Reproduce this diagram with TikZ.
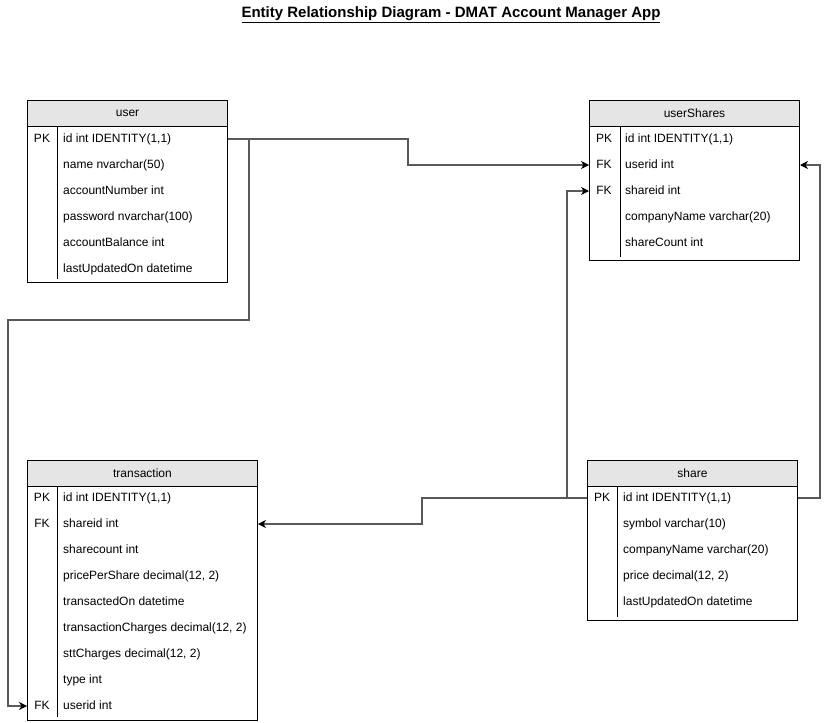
\documentclass[tikz,border=0pt]{standalone}
\usepackage{fontspec}
\setmainfont{Liberation Sans}
\usetikzlibrary{arrows.meta,positioning}
\tikzset{
    tblhead/.style ={
        draw=black,
        fill=black!10,
        line width=1pt,
        minimum height=26pt,
        inner sep=0pt,
        anchor=north west
    },
    tblbody/.style ={
        draw=black,
        line width=1pt,
        inner sep=0pt,
        anchor=north west
    },
    keytxt/.style ={
        inner sep=0pt,
        text height=9pt,
        text depth=2.5pt
    },
    fieldtxt/.style ={
        anchor=west,
        inner sep=0pt,
        text height=9pt,
        text depth=2.5pt
    },
    divider/.style ={
        draw=black,
        line width=1pt
    },
    relation/.style ={
        draw=black!65,
        line width=1.1pt,
        -{Stealth[length=8pt,width=8pt,inset=2.5pt,black]}
    }
}
\begin{document}
\begin{tikzpicture}[x=1pt,y=-1pt,font=\fontsize{12}{14}\selectfont]
        \useasboundingbox (0,0) rectangle (828,723);
        \node[font=\fontsize{15}{18}\selectfont\bfseries] (title) at (451,15) {\underline{Entity Relationship Diagram - DMAT Account Manager App}};

        \node[tblhead, minimum width=200pt] (user) at (27,100) {user};
        \node[tblbody, minimum width=200pt, minimum height=156pt] (userbody) at (27,126) {};
        \draw[divider] ([xshift=30pt]userbody.north west) -- ([xshift=30pt,yshift=4pt]userbody.south west);
        \node[keytxt] (user-pk) at (42,139) {PK};
        \node[fieldtxt] (user-id) at (63,139) {id int IDENTITY(1,1)};
        \node[fieldtxt] (user-name) at (63,165) {name nvarchar(50)};
        \node[fieldtxt] (user-accno) at (63,191) {accountNumber int};
        \node[fieldtxt] (user-pwd) at (63,217) {password nvarchar(100)};
        \node[fieldtxt] (user-bal) at (63,243) {accountBalance int};
        \node[fieldtxt] (user-upd) at (63,269) {lastUpdatedOn datetime};

        \node[tblhead, minimum width=210pt] (usershares) at (589,100) {userShares};
        \node[tblbody, minimum width=210pt, minimum height=134pt] (usersharesbody) at (589,126) {};
        \draw[divider] ([xshift=31pt]usersharesbody.north west) -- ([xshift=31pt,yshift=4pt]usersharesbody.south west);
        \node[keytxt] (usershares-pk) at (604,139) {PK};
        \node[keytxt] (usershares-fk1) at (604,165) {FK};
        \node[keytxt] (usershares-fk2) at (604,191) {FK};
        \node[fieldtxt] (usershares-id) at (625,139) {id int IDENTITY(1,1)};
        \node[fieldtxt] (usershares-userid) at (625,165) {userid int};
        \node[fieldtxt] (usershares-shareid) at (625,191) {shareid int};
        \node[fieldtxt] (usershares-company) at (625,217) {companyName varchar(20)};
        \node[fieldtxt] (usershares-count) at (625,243) {shareCount int};

        \node[tblhead, minimum width=230pt] (trans) at (27,460) {transaction};
        \node[tblbody, minimum width=230pt, minimum height=234pt] (transbody) at (27,486) {};
        \draw[divider] ([xshift=30pt]transbody.north west) -- ([xshift=30pt,yshift=4pt]transbody.south west);
        \node[keytxt] (trans-pk) at (42,498) {PK};
        \node[keytxt] (trans-fk1) at (42,524) {FK};
        \node[keytxt] (trans-fk2) at (42,706) {FK};
        \node[fieldtxt] (trans-id) at (63,498) {id int IDENTITY(1,1)};
        \node[fieldtxt] (trans-shareid) at (63,524) {shareid int};
        \node[fieldtxt] (trans-count) at (63,550) {sharecount int};
        \node[fieldtxt] (trans-price) at (63,576) {pricePerShare decimal(12, 2)};
        \node[fieldtxt] (trans-on) at (63,602) {transactedOn datetime};
        \node[fieldtxt] (trans-charges) at (63,628) {transactionCharges decimal(12, 2)};
        \node[fieldtxt] (trans-stt) at (63,654) {sttCharges decimal(12, 2)};
        \node[fieldtxt] (trans-type) at (63,680) {type int};
        \node[fieldtxt] (trans-userid) at (63,706) {userid int};

        \node[tblhead, minimum width=210pt] (share) at (587,460) {share};
        \node[tblbody, minimum width=210pt, minimum height=134pt] (sharebody) at (587,486) {};
        \draw[divider] ([xshift=30pt]sharebody.north west) -- ([xshift=30pt,yshift=4pt]sharebody.south west);
        \node[keytxt] (share-pk) at (602,498) {PK};
        \node[fieldtxt] (share-id) at (623,498) {id int IDENTITY(1,1)};
        \node[fieldtxt] (share-symbol) at (623,524) {symbol varchar(10)};
        \node[fieldtxt] (share-company) at (623,550) {companyName varchar(20)};
        \node[fieldtxt] (share-price) at (623,576) {price decimal(12, 2)};
        \node[fieldtxt] (share-upd) at (623,602) {lastUpdatedOn datetime};

        \draw[relation] (userbody.east |- user-id) -- ++(180,0) |- (usersharesbody.west |- usershares-userid);
        \draw[relation] (userbody.east |- user-id) -- ++(21,0) -- ++(0,181) -| ([xshift=-19pt]transbody.west |- trans-userid) -- (transbody.west |- trans-userid);
        \draw[relation] (sharebody.west |- share-id) -- ++(-20,0) |- (usersharesbody.west |- usershares-shareid);
        \draw[relation] (sharebody.east |- share-id) -- ++(22,0) |- (usersharesbody.east |- usershares-userid);
        \draw[relation] (sharebody.west |- share-id) -- ++(-165,0) |- (transbody.east |- trans-shareid);
    \end{tikzpicture}
\end{document}
